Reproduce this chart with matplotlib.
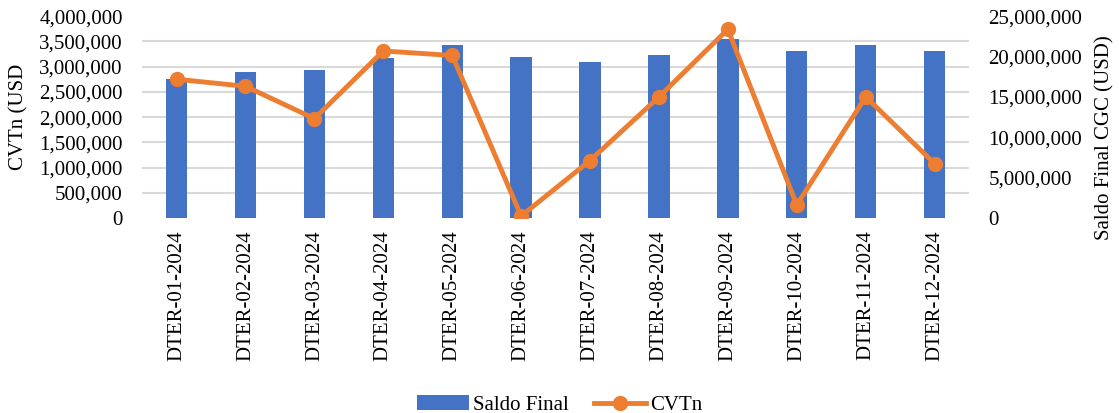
import matplotlib
matplotlib.use("Agg")
import matplotlib.pyplot as plt
from matplotlib.ticker import FuncFormatter, MultipleLocator
import numpy as np

plt.rcParams['font.family'] = ['Liberation Serif', 'DejaVu Serif']

months = ['DTER-01-2024', 'DTER-02-2024', 'DTER-03-2024', 'DTER-04-2024',
          'DTER-05-2024', 'DTER-06-2024', 'DTER-07-2024', 'DTER-08-2024',
          'DTER-09-2024', 'DTER-10-2024', 'DTER-11-2024', 'DTER-12-2024']
saldo_final = [17200000, 18070000, 18280000, 19800000, 21450000, 19930000,
               19350000, 20200000, 22150000, 20670000, 21400000, 20700000]
cvtn = [2750000, 2610000, 1970000, 3310000, 3220000, 40000,
        1140000, 2400000, 3740000, 260000, 2400000, 1080000]

blue = '#4472C4'
orange = '#ED7D31'
grid_col = '#D9D9D9'
fs = 15

fig = plt.figure(figsize=(11.19, 4.13), dpi=100)
ax = fig.add_subplot(111)
ax2 = ax.twinx()
fig.subplots_adjust(left=0.127, right=0.866, top=0.961, bottom=0.472)

x = np.arange(len(months))

# bars on the right axis, drawn underneath the line
ax2.bar(x, saldo_final, width=0.31, color=blue, label='Saldo Final', zorder=2)
ax2.set_ylim(0, 25000000)
ax2.yaxis.set_major_locator(MultipleLocator(5000000))
ax2.yaxis.set_minor_locator(MultipleLocator(3125000))
ax2.grid(which='minor', color=grid_col, linewidth=1.5, zorder=0)
ax2.grid(which='major', visible=False)
ax2.set_axisbelow(True)

ax.plot(x, cvtn, color=orange, linewidth=3.5, marker='o', markersize=10,
        label='CVTn', zorder=3)
ax.set_ylim(0, 4000000)
ax.yaxis.set_major_locator(MultipleLocator(500000))
ax.set_zorder(ax2.get_zorder() + 1)
ax.patch.set_visible(False)
ax.set_xlim(-0.5, len(months) - 0.5)

fmt = FuncFormatter(lambda v, p: f'{int(v):,}')
ax.yaxis.set_major_formatter(fmt)
ax2.yaxis.set_major_formatter(fmt)

ax.set_xticks(x)
ax.set_xticklabels(months, rotation=90, fontsize=fs)
ax.tick_params(axis='x', length=0, pad=9)
ax.tick_params(axis='y', length=0, pad=14, labelsize=fs)
ax2.tick_params(axis='y', which='both', length=0, pad=14, labelsize=fs)

for a in (ax, ax2):
    for s in a.spines.values():
        s.set_visible(False)

ax.set_ylabel('CVTn (USD', fontsize=fs)
ax.yaxis.set_label_coords(-0.137, 0.5)
ax2.set_ylabel('Saldo Final CGC (USD)', fontsize=fs)
ax2.yaxis.set_label_coords(1.153, 0.4)

h1, l1 = ax2.get_legend_handles_labels()
h2, l2 = ax.get_legend_handles_labels()
fig.legend(h1 + h2, l1 + l2, loc='lower center', bbox_to_anchor=(0.5, -0.05),
           ncol=2, frameon=False, fontsize=fs, handlelength=2.5,
           handletextpad=0.2, columnspacing=1.2)

fig.savefig('out.png', dpi=100)
